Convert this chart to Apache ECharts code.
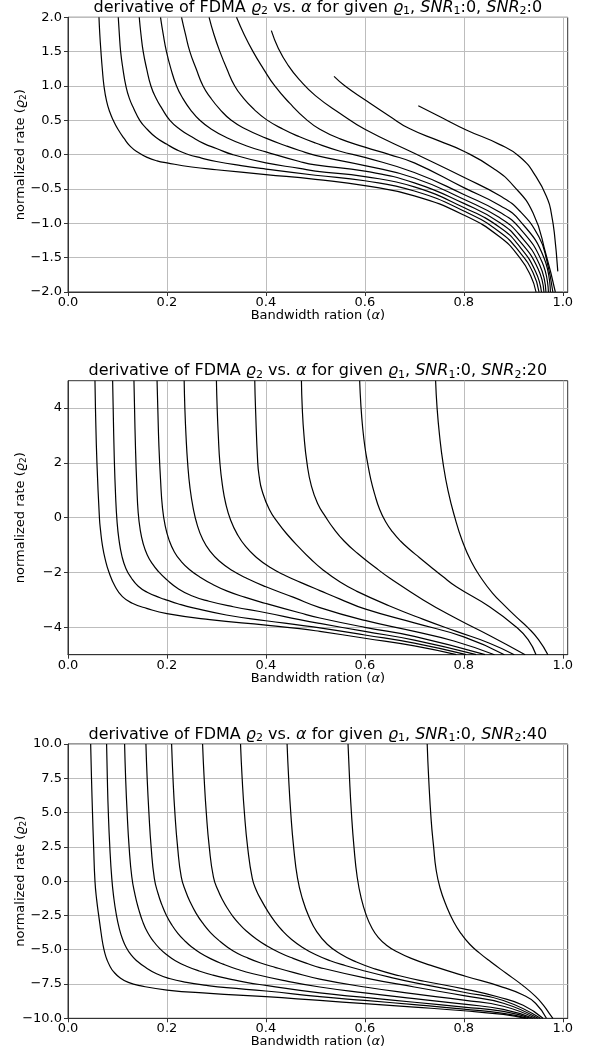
<!DOCTYPE html>
<html>
<head>
<meta charset="utf-8">
<script src="https://cdn.jsdelivr.net/npm/echarts@6/dist/echarts.min.js"></script>
<style>
  html, body { margin: 0; padding: 0; background: #fff; }
  #chart { width: 596px; height: 1053px; }
</style>
</head>
<body>
<div id="chart"></div>
<script>
// bandwidth ratio (alpha) vs derivative of normalized rate
// one list of [alpha, rate] pairs per rho1 curve

const snr0Curves = [
  [[0.0626,2],[0.0643,1.75],[0.0666,1.5],[0.0693,1.25],[0.0727,1.0],[0.078,0.78],[0.0845,0.62],[0.0915,0.5],[0.101,0.37],[0.113,0.24],[0.126,0.12],[0.142,0.03],[0.16,-0.04],[0.18,-0.09],[0.2,-0.12],[0.25,-0.18],[0.3,-0.22],[0.4,-0.29],[0.5,-0.36],[0.6,-0.45],[0.7,-0.60],[0.8,-0.88],[0.873,-1.20],[0.913,-1.50],[0.935,-1.76],[0.946,-2.0]],
  [[0.1016,2],[0.1038,1.75],[0.1064,1.5],[0.111,1.25],[0.117,1.0],[0.124,0.82],[0.133,0.67],[0.145,0.5],[0.16,0.37],[0.178,0.25],[0.2,0.15],[0.22,0.07],[0.24,0.01],[0.27,-0.05],[0.3,-0.1],[0.35,-0.16],[0.4,-0.21],[0.5,-0.30],[0.6,-0.38],[0.7,-0.53],[0.8,-0.82],[0.873,-1.13],[0.913,-1.42],[0.94,-1.72],[0.952,-2.0]],
  [[0.144,2],[0.1475,1.75],[0.152,1.5],[0.159,1.25],[0.1676,1.0],[0.178,0.82],[0.19,0.67],[0.206,0.5],[0.226,0.37],[0.25,0.26],[0.275,0.16],[0.3,0.09],[0.333,0.0],[0.4,-0.12],[0.468,-0.2],[0.5,-0.24],[0.6,-0.32],[0.7,-0.47],[0.8,-0.77],[0.873,-1.06],[0.913,-1.34],[0.945,-1.70],[0.957,-2.0]],
  [[0.187,2],[0.1925,1.75],[0.199,1.5],[0.208,1.25],[0.2194,1.0],[0.232,0.82],[0.248,0.65],[0.2665,0.5],[0.29,0.37],[0.32,0.25],[0.36,0.13],[0.4,0.04],[0.468,-0.1],[0.5,-0.15],[0.6,-0.24],[0.7,-0.41],[0.8,-0.71],[0.873,-0.99],[0.913,-1.26],[0.95,-1.66],[0.962,-2.0]],
  [[0.2295,2],[0.2375,1.75],[0.2463,1.5],[0.259,1.25],[0.273,1.0],[0.288,0.83],[0.307,0.66],[0.33,0.5],[0.36,0.37],[0.4,0.24],[0.44,0.13],[0.468,0.06],[0.5,-0.01],[0.6,-0.16],[0.7,-0.34],[0.8,-0.65],[0.873,-0.92],[0.913,-1.17],[0.953,-1.6],[0.966,-2.0]],
  [[0.2852,2],[0.295,1.75],[0.307,1.5],[0.321,1.25],[0.337,1.0],[0.355,0.82],[0.376,0.66],[0.401,0.51],[0.435,0.37],[0.468,0.26],[0.5,0.17],[0.55,0.05],[0.6,-0.04],[0.7,-0.26],[0.8,-0.58],[0.873,-0.84],[0.913,-1.07],[0.958,-1.56],[0.971,-2.0]],
  [[0.3406,2],[0.356,1.75],[0.374,1.5],[0.395,1.25],[0.418,1.0],[0.448,0.75],[0.482,0.51],[0.509,0.37],[0.55,0.23],[0.6,0.11],[0.65,0.0],[0.7,-0.12],[0.8,-0.48],[0.873,-0.74],[0.913,-0.96],[0.962,-1.5],[0.975,-2.0]],
  [[0.411,1.805],[0.425,1.55],[0.445,1.3],[0.468,1.09],[0.5,0.86],[0.55,0.6],[0.6,0.37],[0.7,0.02],[0.8,-0.33],[0.873,-0.6],[0.913,-0.82],[0.952,-1.2],[0.968,-1.55],[0.98,-2.0]],
  [[0.5377,1.14],[0.56,1.0],[0.6,0.8],[0.65,0.56],[0.69,0.38],[0.75,0.2],[0.8,0.05],[0.86,-0.2],[0.9,-0.45],[0.94,-0.85],[0.966,-1.45],[0.985,-2.0]],
  [[0.708,0.713],[0.75,0.56],[0.805,0.36],[0.872,0.15],[0.913,-0.03],[0.946,-0.32],[0.97,-0.66],[0.977,-0.86],[0.983,-1.14],[0.99,-1.7]]
];

const snr20Curves = [
  [[0.0545,5],[0.0555,4],[0.0585,2],[0.0635,0],[0.066,-0.5],[0.0695,-1.0],[0.075,-1.5],[0.083,-2.0],[0.095,-2.5],[0.11,-2.88],[0.13,-3.12],[0.159,-3.31],[0.2,-3.5],[0.2867,-3.72],[0.4,-3.92],[0.468,-4.05],[0.509,-4.15],[0.6,-4.4],[0.7,-4.68],[0.785,-5]],
  [[0.0902,5],[0.0913,4],[0.0935,2.2],[0.0962,0.8],[0.099,-0.1],[0.103,-0.8],[0.109,-1.4],[0.117,-1.85],[0.128,-2.2],[0.142,-2.5],[0.16,-2.72],[0.186,-2.92],[0.2,-3.01],[0.222,-3.14],[0.253,-3.29],[0.32,-3.55],[0.4,-3.76],[0.468,-3.92],[0.509,-4.02],[0.6,-4.28],[0.7,-4.58],[0.805,-5]],
  [[0.1333,5],[0.1345,4],[0.1365,2.5],[0.139,1.2],[0.1418,0.2],[0.146,-0.45],[0.152,-0.95],[0.16,-1.35],[0.17,-1.67],[0.183,-1.97],[0.2,-2.27],[0.222,-2.58],[0.25,-2.85],[0.285,-3.05],[0.334,-3.25],[0.4,-3.47],[0.468,-3.72],[0.509,-3.86],[0.6,-4.15],[0.7,-4.47],[0.825,-5]],
  [[0.18,5],[0.1815,4],[0.1838,2.6],[0.187,1.4],[0.191,0.35],[0.1965,-0.3],[0.204,-0.8],[0.215,-1.25],[0.229,-1.6],[0.246,-1.9],[0.267,-2.17],[0.292,-2.43],[0.322,-2.68],[0.357,-2.9],[0.4,-3.13],[0.468,-3.47],[0.509,-3.66],[0.6,-4.0],[0.7,-4.33],[0.843,-5]],
  [[0.2348,5],[0.2362,4],[0.2385,3],[0.2418,2],[0.2465,1.1],[0.253,0.35],[0.261,-0.25],[0.272,-0.78],[0.287,-1.22],[0.307,-1.6],[0.332,-1.93],[0.362,-2.22],[0.4,-2.52],[0.455,-2.9],[0.509,-3.28],[0.6,-3.75],[0.7,-4.15],[0.78,-4.5],[0.862,-5]],
  [[0.3,5],[0.3015,4],[0.3038,3],[0.307,2],[0.312,1.2],[0.319,0.5],[0.329,-0.1],[0.342,-0.6],[0.359,-1.05],[0.381,-1.45],[0.409,-1.82],[0.44,-2.12],[0.47,-2.36],[0.509,-2.66],[0.55,-2.97],[0.6,-3.33],[0.7,-3.84],[0.8,-4.35],[0.882,-5]],
  [[0.3775,5],[0.379,4],[0.3835,2],[0.3865,1.5],[0.392,1],[0.407,0.3],[0.425,-0.2],[0.445,-0.65],[0.468,-1.1],[0.49,-1.5],[0.515,-1.9],[0.55,-2.35],[0.583,-2.68],[0.65,-3.22],[0.717,-3.7],[0.785,-4.15],[0.852,-4.58],[0.902,-5]],
  [[0.4718,5],[0.4735,4],[0.477,3],[0.483,2],[0.492,1.15],[0.505,0.5],[0.52,0.05],[0.537,-0.4],[0.558,-0.85],[0.585,-1.3],[0.62,-1.8],[0.65,-2.2],[0.718,-3.0],[0.785,-3.68],[0.852,-4.3],[0.924,-5]],
  [[0.5895,5],[0.592,4.1],[0.5955,3.3],[0.6,2.6],[0.6055,2.0],[0.612,1.4],[0.62,0.85],[0.63,0.3],[0.642,-0.15],[0.656,-0.52],[0.672,-0.85],[0.69,-1.15],[0.71,-1.45],[0.731,-1.76],[0.757,-2.14],[0.785,-2.52],[0.852,-3.25],[0.906,-3.99],[0.93,-4.45],[0.946,-5]],
  [[0.743,5],[0.746,4],[0.751,3],[0.758,2],[0.768,1],[0.782,0],[0.797,-0.85],[0.815,-1.6],[0.835,-2.2],[0.858,-2.75],[0.882,-3.2],[0.906,-3.62],[0.93,-4.02],[0.951,-4.45],[0.97,-5]]
];

const snr40Curves = [
  [[0.0458,10],[0.0475,7.5],[0.0495,5],[0.0518,2.5],[0.0545,0],[0.0579,-1.35],[0.0632,-2.8],[0.067,-3.8],[0.0705,-4.6],[0.0745,-5.25],[0.079,-5.75],[0.0848,-6.2],[0.092,-6.6],[0.105,-7.04],[0.122,-7.38],[0.1454,-7.62],[0.2,-7.94],[0.2867,-8.18],[0.4,-8.42],[0.509,-8.7],[0.6,-8.93],[0.7,-9.18],[0.8,-9.45],[0.88,-9.72],[0.925,-10]],
  [[0.078,10],[0.0795,7.5],[0.0815,5],[0.0845,2.5],[0.0885,0.2],[0.0925,-1.2],[0.0975,-2.4],[0.1036,-3.45],[0.11,-4.2],[0.118,-4.85],[0.128,-5.4],[0.1387,-5.8],[0.155,-6.25],[0.179,-6.75],[0.205,-7.1],[0.2396,-7.38],[0.28,-7.6],[0.3203,-7.77],[0.4,-8.01],[0.509,-8.42],[0.6,-8.7],[0.7,-9.0],[0.8,-9.33],[0.88,-9.64],[0.93,-10]],
  [[0.1144,10],[0.1165,7.5],[0.1195,5],[0.1235,2.5],[0.129,0.3],[0.1355,-1.0],[0.1425,-2.0],[0.151,-2.95],[0.161,-3.75],[0.172,-4.35],[0.185,-4.9],[0.199,-5.35],[0.217,-5.8],[0.2396,-6.2],[0.265,-6.55],[0.293,-6.85],[0.325,-7.12],[0.36,-7.38],[0.4,-7.6],[0.509,-8.15],[0.6,-8.48],[0.7,-8.83],[0.8,-9.18],[0.88,-9.5],[0.935,-10]],
  [[0.1575,10],[0.16,7.5],[0.1635,5],[0.168,2.5],[0.1745,0.2],[0.182,-0.9],[0.19,-1.75],[0.199,-2.5],[0.21,-3.2],[0.222,-3.8],[0.236,-4.35],[0.25,-4.8],[0.2665,-5.22],[0.288,-5.65],[0.3136,-6.05],[0.342,-6.42],[0.374,-6.75],[0.44,-7.27],[0.509,-7.72],[0.6,-8.15],[0.7,-8.57],[0.8,-8.97],[0.88,-9.35],[0.94,-10]],
  [[0.2094,10],[0.2122,7.5],[0.216,5],[0.2215,2.5],[0.229,0.3],[0.238,-0.75],[0.248,-1.6],[0.259,-2.35],[0.272,-3.05],[0.288,-3.75],[0.307,-4.38],[0.334,-5.1],[0.36,-5.55],[0.388,-5.95],[0.42,-6.3],[0.455,-6.65],[0.509,-7.14],[0.6,-7.72],[0.7,-8.22],[0.8,-8.68],[0.88,-9.12],[0.945,-10]],
  [[0.272,10],[0.2752,7.5],[0.2795,5],[0.2855,2.5],[0.294,0.3],[0.303,-0.65],[0.3136,-1.45],[0.3235,-2.05],[0.334,-2.6],[0.347,-3.15],[0.361,-3.65],[0.38,-4.2],[0.401,-4.7],[0.427,-5.2],[0.455,-5.63],[0.485,-6.02],[0.509,-6.3],[0.6,-7.05],[0.7,-7.72],[0.8,-8.35],[0.88,-8.9],[0.95,-10]],
  [[0.3487,10],[0.352,7.5],[0.3565,5],[0.363,2.5],[0.3725,0.2],[0.381,-0.7],[0.391,-1.4],[0.403,-2.15],[0.417,-2.9],[0.433,-3.6],[0.452,-4.25],[0.475,-4.85],[0.5,-5.35],[0.53,-5.8],[0.56,-6.15],[0.6,-6.55],[0.65,-7.0],[0.7,-7.4],[0.8,-8.1],[0.88,-8.7],[0.955,-10]],
  [[0.4428,10],[0.446,7.5],[0.4502,5],[0.456,2.5],[0.464,0.2],[0.474,-1.3],[0.487,-2.6],[0.503,-3.7],[0.524,-4.6],[0.55,-5.3],[0.583,-5.9],[0.62,-6.4],[0.67,-6.9],[0.72,-7.3],[0.8,-7.85],[0.87,-8.45],[0.92,-9.05],[0.96,-10]],
  [[0.566,10],[0.569,7.5],[0.5728,5],[0.578,2.5],[0.5845,0.3],[0.593,-1.3],[0.603,-2.5],[0.614,-3.4],[0.627,-4.1],[0.643,-4.65],[0.665,-5.15],[0.695,-5.65],[0.738,-6.2],[0.805,-6.95],[0.872,-7.65],[0.92,-8.3],[0.945,-8.9],[0.967,-10]],
  [[0.726,10],[0.729,7.5],[0.734,4.47],[0.739,2.5],[0.744,0.84],[0.752,-0.5],[0.765,-1.83],[0.78,-3.0],[0.795,-3.85],[0.812,-4.6],[0.832,-5.25],[0.855,-5.9],[0.885,-6.7],[0.919,-7.6],[0.945,-8.4],[0.96,-9.0],[0.972,-9.6],[0.98,-10]]
];

const panelCurves = [snr0Curves, snr20Curves, snr40Curves];
const snr2Values = [0, 20, 40];
const xTicks = [0, 0.2, 0.4, 0.6, 0.8, 1.0];
const yTicks0 = [-2, -1.5, -1, -0.5, 0, 0.5, 1, 1.5, 2];
const yTicks20 = [-4, -2, 0, 2, 4];
const yTicks40 = [-10, -7.5, -5, -2.5, 0, 2.5, 5, 7.5, 10];
const yTickSets = [yTicks0, yTicks20, yTicks40];
const yRanges = [[-2, 2], [-5, 5], [-10, 10]];
const yDecimals = [1, 0, 1];

const FONT = 'DejaVu Sans';
const gridTops = [17.3, 380.7, 744];
const gridHeights = [274.7, 274, 274.3];
const plotLeft = 68, plotWidth = 499.7;

function fmt(v, d) {
  const s = Math.abs(v).toFixed(d);
  return (v < -1e-9 ? '\u2212' : '') + s;
}

const richMath = {
  i: { fontFamily: FONT, fontStyle: 'italic', fontSize: 13, color: '#000' },
  s: { fontFamily: FONT, fontSize: 9, color: '#000', padding: [6, 0, 0, 0] }
};
const richTitle = {
  i: { fontFamily: FONT, fontStyle: 'italic', fontSize: 16, fill: '#000' },
  s: { fontFamily: FONT, fontSize: 11, fill: '#000', padding: [7, 0, 0, 0] }
};

const grids = [], xAxes = [], yAxes = [], series = [], graphics = [];

for (let p = 0; p < 3; p++) {
  grids.push({
    left: plotLeft, top: gridTops[p], width: plotWidth, height: gridHeights[p],
    containLabel: false, outerBoundsMode: 'none',
    show: true, borderColor: '#333', borderWidth: 1, backgroundColor: 'transparent'
  });
  xAxes.push({
    type: 'value', gridIndex: p, min: 0, max: 1.01,
    axisLine: { show: true, onZero: false, lineStyle: { color: '#333', width: 1 } },
    axisTick: { show: true, length: 4, customValues: xTicks, lineStyle: { color: '#333' } },
    axisLabel: {
      customValues: xTicks, margin: 4, fontFamily: FONT, fontSize: 13, color: '#000',
      formatter: v => fmt(v, 1)
    },
    splitLine: { show: true, lineStyle: { color: '#bdbdbd', width: 1 } },
    name: 'Bandwidth ration ({i|\u03b1})',
    nameLocation: 'middle', nameGap: 17, nameMoveOverlap: false,
    nameTextStyle: { fontFamily: FONT, fontSize: 13, color: '#000', rich: richMath }
  });
  yAxes.push({
    type: 'value', gridIndex: p, min: yRanges[p][0], max: yRanges[p][1],
    axisLine: { show: true, onZero: false, lineStyle: { color: '#333', width: 1 } },
    axisTick: { show: true, length: 4, customValues: yTickSets[p], lineStyle: { color: '#333' } },
    axisLabel: {
      customValues: yTickSets[p], margin: 6, fontFamily: FONT, fontSize: 13, color: '#000',
      formatter: (v => x => fmt(x, yDecimals[v]))(p)
    },
    splitLine: { show: true, lineStyle: { color: '#bdbdbd', width: 1 } },
    name: 'normalized rate ({i|\u03f1}{s|2})',
    nameLocation: 'middle', nameGap: 40, nameMoveOverlap: false,
    nameTextStyle: { fontFamily: FONT, fontSize: 13, color: '#000', rich: richMath }
  });
  panelCurves[p].forEach((curve, k) => {
    series.push({
      type: 'line', xAxisIndex: p, yAxisIndex: p,
      name: 'p' + p + 'c' + k,
      data: curve,
      showSymbol: false, smooth: 0.5,
      lineStyle: { color: '#000', width: 1.2 },
      silent: true
    });
  });
  graphics.push({
    type: 'text',
    x: plotLeft + plotWidth / 2,
    y: gridTops[p] - 9.5,
    style: {
      text: 'derivative of FDMA {i|\u03f1}{s|2} vs. {i|\u03b1} for given {i|\u03f1}{s|1}, {i|SNR}{s|1}:0, {i|SNR}{s|2}:' + snr2Values[p],
      fontFamily: FONT, fontSize: 16, fill: '#000',
      align: 'center', verticalAlign: 'middle',
      rich: richTitle
    }
  });
}

const chart = echarts.init(document.getElementById('chart'), null, { renderer: 'canvas' });
chart.setOption({
  animation: false,
  backgroundColor: '#fff',
  grid: grids,
  xAxis: xAxes,
  yAxis: yAxes,
  series: series,
  graphic: graphics
});
</script>
</body>
</html>
